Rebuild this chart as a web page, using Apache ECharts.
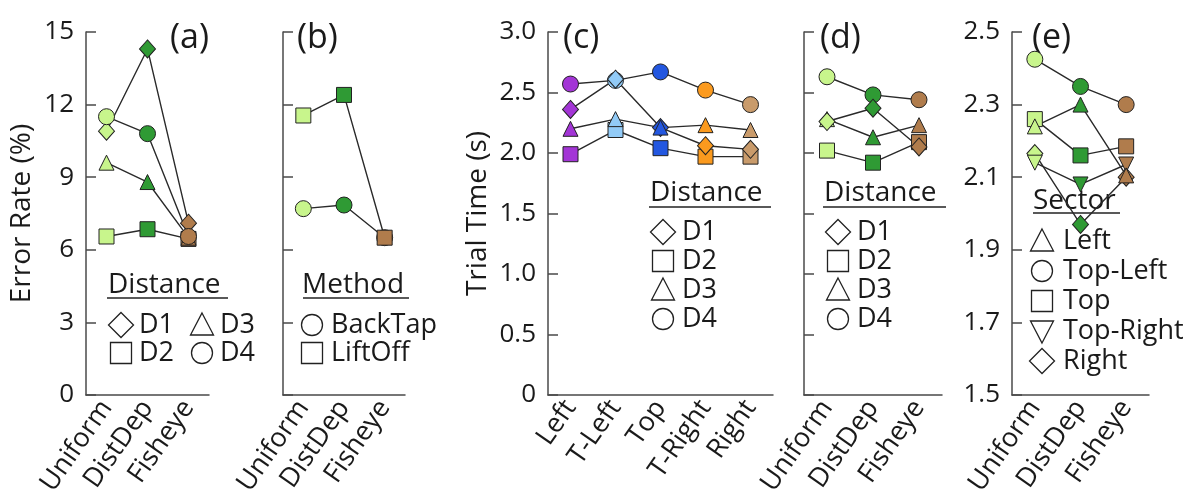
<!DOCTYPE html>
<html><head><meta charset="utf-8">
<script src="https://cdn.jsdelivr.net/npm/echarts@6/dist/echarts.min.js"></script>
<style>html,body{margin:0;padding:0;background:#fff}#c{width:1204px;height:504px}</style>
</head><body><div id="c"></div>
<script>
// ---- data ----
const catsMethod = ['Uniform', 'DistDep', 'Fisheye'];
const catsSector = ['Left', 'T-Left', 'Top', 'T-Right', 'Right'];
const methodColors = ['#c8f58c', '#2f9a34', '#b07c4c'];
const sectorColors = ['#a335d6', '#92cbf7', '#2357e0', '#fb9a1e', '#c99b6b'];

// (a) Error rate (%) by distance
const aD1 = [10.9, 14.3, 7.1];
const aD2 = [6.55, 6.85, 6.45];
const aD3 = [9.6, 8.8, 6.5];
const aD4 = [11.5, 10.8, 6.55];
// (b) Error rate (%) by method
const bBackTap = [7.7, 7.85, 6.5];
const bLiftOff = [11.55, 12.4, 6.5];
// (c) Trial time (s) by sector
const cD1 = [2.36, 2.61, 2.21, 2.06, 2.03];
const cD2 = [1.99, 2.19, 2.04, 1.97, 1.97];
const cD3 = [2.20, 2.28, 2.21, 2.23, 2.19];
const cD4 = [2.57, 2.60, 2.67, 2.52, 2.40];
// (d) Trial time (s) by distance
const dD1 = [2.26, 2.37, 2.05];
const dD2 = [2.02, 1.92, 2.09];
const dD3 = [2.28, 2.13, 2.23];
const dD4 = [2.63, 2.48, 2.44];
// (e) Trial time (s) by sector
const eLeft = [2.24, 2.30, 2.105];
const eTopLeft = [2.425, 2.35, 2.30];
const eTop = [2.26, 2.16, 2.185];
const eTopRight = [2.14, 2.08, 2.135];
const eRight = [2.165, 1.97, 2.10];

const distLegend = ['D1', 'D2', 'D3', 'D4'];
const methodLegend = ['BackTap', 'LiftOff'];
const sectorLegend = ['Left', 'Top-Left', 'Top', 'Top-Right', 'Right'];
const panelLabels = ['(a)', '(b)', '(c)', '(d)', '(e)'];

// ---- style ----
const FONT = 'Open Sans';
const TXT = '#1a1a1a';
const AX = '#4a4a4a';
const LINE = '#2a2a2a';

const grids = [
  {left: 86, top: 32, width: 123, height: 363},
  {left: 283, top: 32, width: 122, height: 363},
  {left: 548, top: 32, width: 225, height: 363},
  {left: 804, top: 32, width: 138, height: 363},
  {left: 1012, top: 32, width: 137, height: 363}
];

function xAxisFor(i, cats) {
  return {
    type: 'category', gridIndex: i, data: cats, boundaryGap: true,
    axisLine: {lineStyle: {color: AX, width: 1.5}},
    axisTick: {inside: true, length: 9, lineStyle: {color: AX, width: 1.5}},
    axisLabel: {rotate: 55, margin: 8, fontFamily: FONT, fontSize: 27, color: TXT, interval: 0}
  };
}
function yAxisFor(i, min, max, interval, showLabels, fmt, name, gap) {
  return {
    type: 'value', gridIndex: i, min: min, max: max, interval: interval,
    splitLine: {show: false},
    axisLine: {show: true, lineStyle: {color: AX, width: 1.5}},
    axisTick: {show: true, inside: true, length: 10, lineStyle: {color: AX, width: 1.5}},
    axisLabel: {show: showLabels, margin: 12, fontFamily: FONT, fontSize: 26, color: TXT, formatter: fmt},
    name: name || '', nameLocation: 'middle', nameGap: gap || 0, nameRotate: 90,
    nameTextStyle: {fontFamily: FONT, fontSize: 28, color: TXT}
  };
}

function ser(i, data, symbol, colors, opts) {
  opts = opts || {};
  return {
    type: 'line', xAxisIndex: i, yAxisIndex: i, data: data,
    symbol: symbol, symbolSize: opts.size || 15, symbolRotate: opts.rot || 0,
    showAllSymbol: true,
    lineStyle: {color: LINE, width: 1.4},
    itemStyle: {color: (p) => colors[p.dataIndex], borderColor: '#222', borderWidth: 1},
    emphasis: {disabled: true}, animation: false, z: 2
  };
}

const DIA = 'diamond';
const DIAS = {size: [16, 18]};

const series = [
  // (a)
  ser(0, aD2, 'rect', methodColors),
  ser(0, aD3, 'triangle', methodColors),
  ser(0, aD1, DIA, methodColors, DIAS),
  ser(0, aD4, 'circle', methodColors, {size: 16}),
  // (b)
  ser(1, bBackTap, 'circle', methodColors, {size: 16}),
  ser(1, bLiftOff, 'rect', methodColors),
  // (c)
  ser(2, cD4, 'circle', sectorColors, {size: 16}),
  ser(2, cD2, 'rect', sectorColors),
  ser(2, cD1, DIA, sectorColors, DIAS),
  ser(2, cD3, 'triangle', sectorColors),
  // (d)
  ser(3, dD4, 'circle', methodColors, {size: 16}),
  ser(3, dD2, 'rect', methodColors),
  ser(3, dD3, 'triangle', methodColors),
  ser(3, dD1, DIA, methodColors, DIAS),
  // (e)
  ser(4, eTopLeft, 'circle', methodColors, {size: 16}),
  ser(4, eTop, 'rect', methodColors),
  ser(4, eRight, DIA, methodColors, DIAS),
  ser(4, eTopRight, 'triangle', methodColors, {rot: 180}),
  ser(4, eLeft, 'triangle', methodColors)
];

// ---- legend graphics ----
const g = [];
const SYM = {stroke: '#222', lineWidth: 1.3, fill: '#fff'};
function symbolShape(kind, cx, cy) {
  if (kind === 'diamond') return {type: 'polygon', shape: {points: [[cx, cy - 12.5], [cx + 12.5, cy], [cx, cy + 12.5], [cx - 12.5, cy]]}, style: SYM};
  if (kind === 'rect') return {type: 'rect', shape: {x: cx - 10.5, y: cy - 10.5, width: 21, height: 21}, style: SYM};
  if (kind === 'triangle') return {type: 'polygon', shape: {points: [[cx, cy - 12], [cx + 11.5, cy + 10], [cx - 11.5, cy + 10]]}, style: SYM};
  if (kind === 'dtriangle') return {type: 'polygon', shape: {points: [[cx, cy + 12], [cx + 11.5, cy - 10], [cx - 11.5, cy - 10]]}, style: SYM};
  return {type: 'circle', shape: {cx: cx, cy: cy, r: 10.5}, style: SYM};
}
function txt(str, x, y, size, align) {
  return {type: 'text', x: x, y: y, style: {text: str, fontFamily: FONT, fontSize: size || 27, fill: TXT, align: align || 'left', verticalAlign: 'middle'}};
}
function title(str, x, y, x1, x2, uy) {
  g.push(txt(str, x, y, 28));
  g.push({type: 'line', shape: {x1: x1, y1: uy, x2: x2, y2: uy}, style: {stroke: '#222', lineWidth: 1.6}});
}
function item(kind, label, sx, tx, y) {
  g.push(symbolShape(kind, sx, y));
  g.push(txt(label, tx, y));
}

// panel labels
const plx = [170, 297, 563, 820, 1032];
panelLabels.forEach((t, i) => g.push(txt(t, plx[i], 38, 34)));

// (a) legend
title('Distance', 108, 285, 107, 228, 298);
item('diamond', distLegend[0], 121, 139, 325);
item('triangle', distLegend[2], 202, 220, 325);
item('rect', distLegend[1], 121, 139, 353);
item('circle', distLegend[3], 202, 220, 353);
// (b) legend
title('Method', 302, 285, 303, 409, 298);
item('circle', methodLegend[0], 312, 331, 325);
item('rect', methodLegend[1], 312, 331, 353);
// (c) legend
title('Distance', 650, 193, 649, 771, 207);
['diamond', 'rect', 'triangle', 'circle'].forEach((k, j) => item(k, distLegend[j], 663, 682, 232 + j * 29));
// (d) legend
title('Distance', 824, 193, 823, 946, 207);
['diamond', 'rect', 'triangle', 'circle'].forEach((k, j) => item(k, distLegend[j], 838, 857, 232 + j * 29));
// (e) legend
title('Sector', 1033, 201, 1033, 1120, 213);
['triangle', 'circle', 'rect', 'dtriangle', 'diamond'].forEach((k, j) => item(k, sectorLegend[j], 1042, 1063, 241 + j * 30));

const fmt1 = (v) => (v === 0 ? '0' : v.toFixed(1));
const fmtE = (v) => v.toFixed(1);

const option = {
  backgroundColor: '#fff',
  animation: false,
  grid: grids,
  xAxis: [
    xAxisFor(0, catsMethod), xAxisFor(1, catsMethod), xAxisFor(2, catsSector),
    xAxisFor(3, catsMethod), xAxisFor(4, catsMethod)
  ],
  yAxis: [
    yAxisFor(0, 0, 15, 3, true, null, 'Error Rate (%)', 50),
    yAxisFor(1, 0, 15, 3, false),
    yAxisFor(2, 0, 3, 0.5, true, fmt1, 'Trial Time (s)', 56),
    yAxisFor(3, 0, 3, 0.5, false),
    yAxisFor(4, 1.5, 2.5, 0.2, true, fmtE)
  ],
  series: series,
  graphic: g
};
const chart = echarts.init(document.getElementById('c'), null, {renderer: 'canvas'});
chart.setOption(option);
</script>
</body></html>
